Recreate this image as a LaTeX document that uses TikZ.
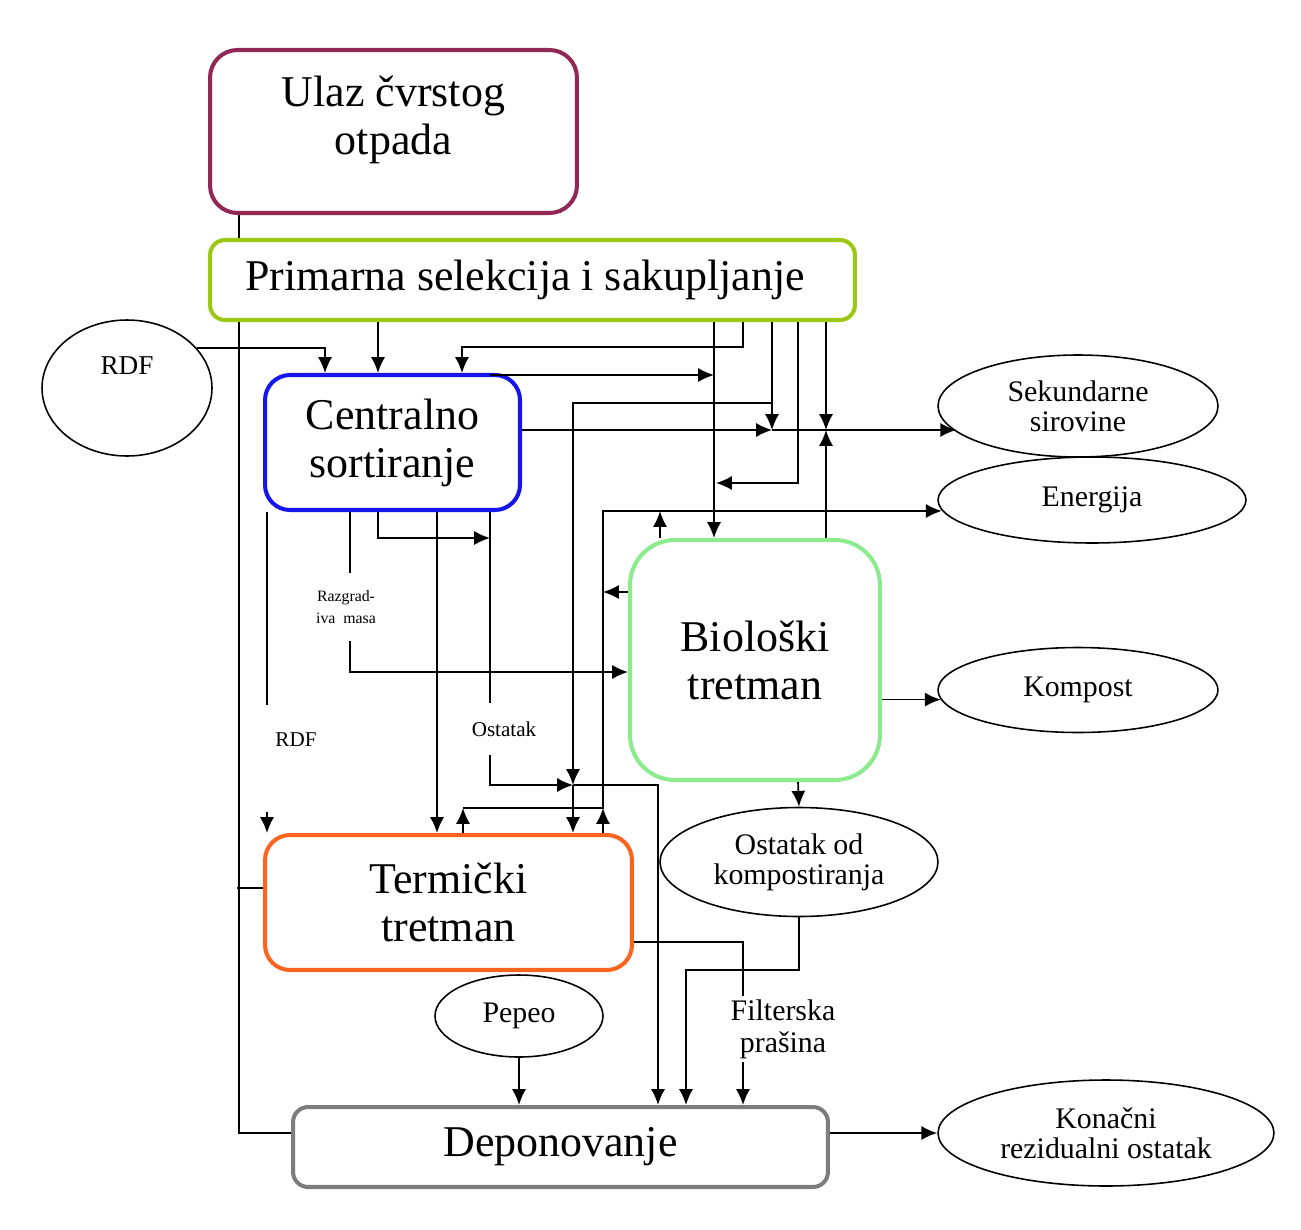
\documentclass[tikz,border=0pt]{standalone}
\usepackage{fontspec}
\setmainfont{Liberation Serif}
\usetikzlibrary{shapes.geometric, arrows.meta}

\definecolor{ulazcol}{RGB}{145,40,85}
\definecolor{primcol}{RGB}{155,200,20}
\definecolor{sortcol}{RGB}{20,20,235}
\definecolor{biocol}{RGB}{140,235,140}
\definecolor{termcol}{RGB}{250,100,30}
\definecolor{depcol}{RGB}{125,125,125}

\begin{document}
\begin{tikzpicture}[
        boxnode/.style={rectangle, line width=2.3pt, fill=white, align=center, inner sep=0pt, font=\fontsize{25}{27.3}\selectfont},
        ovalnode/.style={ellipse, draw=black, line width=0.9pt, fill=white, inner sep=0pt, align=center, font=\fontsize{17}{17}\selectfont},
        smalltext/.style={align=center, inner sep=2pt, font=\fontsize{12}{12}\selectfont},
        arrow/.style = {-{Latex[length=9pt,width=8pt]}, line width=0.95pt},
        line/.style = {line width=0.95pt},
        x=0.02cm,y=-0.02cm,
    ]
    \fill[white] (0,0) rectangle (1301,1230);
    \node[boxnode, draw=ulazcol, rounded corners=0.55cm, minimum width=7.34cm, minimum height=3.26cm] (0) at (393.5,131.5) {Ulaz čvrstog\\otpada\\[-0.3cm]};
    \node[boxnode, draw=primcol, rounded corners=0.3cm, minimum width=12.9cm, minimum height=1.6cm] (1) at (532.5,280) {Primarna selekcija i sakupljanje\hspace*{0.3cm}};
    \node[ovalnode, minimum width=3.4cm, minimum height=2.72cm, label={[font=\fontsize{15.5}{15.5}\selectfont, yshift=0.44cm]center:RDF}] (2) at (127,388) {};
    \node[boxnode, draw=sortcol, rounded corners=0.5cm, minimum width=5.1cm, minimum height=2.7cm] (3) at (392.5,442.5) {Centralno\\sortiranje};
    \node[ovalnode, minimum width=5.6cm, minimum height=2.04cm] (4) at (1078,406) {Sekundarne\\sirovine};
    \node[ovalnode, minimum width=6.16cm, minimum height=1.72cm] (5) at (1092,500) {Energija};
    \node[boxnode, draw=biocol, rounded corners=0.9cm, minimum width=5cm, minimum height=4.8cm] (6) at (755,660) {Biološki\\tretman};
    \node[ovalnode, minimum width=5.6cm, minimum height=1.7cm] (7) at (1078,690) {Kompost};
    \node[boxnode, draw=termcol, rounded corners=0.5cm, minimum width=7.34cm, minimum height=2.7cm] (8) at (448.5,902.5) {Termički\\tretman};
    \node[ovalnode, minimum width=5.56cm, minimum height=2.18cm] (9) at (799,862) {Ostatak od\\kompostiranja};
    \node[ovalnode, minimum width=3.36cm, minimum height=1.64cm] (10) at (519,1016) {Pepeo};
    \node[boxnode, draw=depcol, rounded corners=0.3cm, minimum width=10.7cm, minimum height=1.6cm] (11) at (560.5,1147) {Deponovanje};
    \node[ovalnode, minimum width=6.72cm, minimum height=2.12cm] (12) at (1106,1133) {Konačni\\rezidualni ostatak};
    \node[smalltext, font=\fontsize{9}{12.5}\selectfont, inner ysep=0.34cm] (13) at (346,607) {Razgrad-\\iva\ \ masa};
    \node[smalltext] (14) at (296,740) {RDF};
    \node[smalltext, inner ysep=0.36cm] (15) at (504,729) {Ostatak};
    \node[smalltext, font=\fontsize{17}{18.2}\selectfont] (16) at (783,1029) {Filterska\\prašina};

    \coordinate (a1) at (714,375);
    \coordinate (a2) at (772,430);
    \coordinate (a3) at (826,430);
    \coordinate (a4) at (716,483);
    \coordinate (a5) at (603,511);
    \coordinate (a6) at (603,592);
    \coordinate (a7) at (490,538);
    \coordinate (a8) at (573,785);
    \coordinate (a10) at (463,808);
    \coordinate (a11) at (603,808);
    \coordinate (b1) at (267,705);
    \coordinate (b2) at (267,812);

    % left side
    \draw [line] (239,0 |- 0.south) -- (239,0 |- 1.north);
    \draw [line] (239,0 |- 1.south) |- (11.west |- 0,1133);
    \draw [line] (8.west |- 0,888) -- ++(-26,0);
    \draw [arrow] (2.30) -| (325,0 |- 3.north);
    % from primary selection
    \draw [arrow] (378,0 |- 1.south) -- (378,0 |- 3.north);
    \draw [arrow] (743,0 |- 1.south) |- (462,347) -- (462,0 |- 3.north);
    \draw [arrow] (714,0 |- 1.south) -- (714,0 |- 6.north);
    \draw [arrow] (772,0 |- 1.south) -- (a2);
    \draw [arrow] (772,403) -| (a8);
    \draw [arrow] (a8) -- (573,0 |- 8.north);
    \draw [arrow] (798,0 |- 1.south) |- (a4);
    \draw [arrow] (826,0 |- 1.south) -- (a3);
    \draw [arrow] (826,0 |- 6.north) -- (a3);
    % from central sorting
    \draw [arrow] (a1 -| 490,0) -- (a1);
    \draw [arrow] (3.east |- a2) -- (a2);
    \draw [arrow] (a2) -- (a2 -| 4.192);
    \draw [line] (267,0 |- 3.south) -- (b1);
    \draw [arrow] (b2) -- (267,0 |- 8.north);
    \draw [line] (350,0 |- 3.south) -- (350,0 |- 13.north);
    \draw [arrow] (350,0 |- 13.south) |- (6.west |- 0,672);
    \draw [arrow] (378,0 |- 3.south) |- (a7);
    \draw [arrow] (437,0 |- 3.south) -- (437,0 |- 8.north);
    \draw [line] (490,0 |- 3.south) -- (490,0 |- 15.north);
    \draw [arrow] (490,0 |- 15.south) |- (a8);
    \draw [arrow] (a8) -| (658,0 |- 11.north);
    % energy
    \draw [arrow] (463,0 |- 8.north) -- (a10);
    \draw [arrow] (603,0 |- 8.north) -- (a11);
    \draw [arrow] (a10) -- (a11) -- (a5) -- (a5 -| 5.184);
    \draw [arrow] (660,0 |- 6.north) -- (660,0 |- a5);
    \draw [arrow] (6.west |- a6) -- (a6);
    % biological treatment
    \draw [arrow] (798,0 |- 6.south) -- (9.north);
    \draw [arrow] (6.east |- 7.184) -- (7.184);
    \draw [arrow] (9.south) -- ++(0,53) -| (686,0 |- 11.north);
    % thermal treatment and landfill
    \draw [line] (8.east |- 0,942) -| (743,0 |- 16.north);
    \draw [arrow] (743,0 |- 16.south) -- (743,0 |- 11.north);
    \draw [arrow] (10.south) -- (10.south |- 11.north);
    \draw [arrow] (11.east |- 12.west) -- (12.west);
\end{tikzpicture}
\end{document}
